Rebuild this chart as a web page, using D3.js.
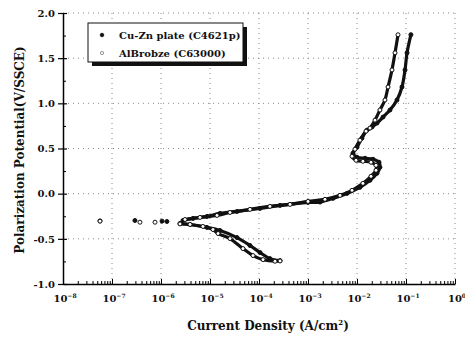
<!DOCTYPE html>
<html>
<head>
<meta charset="utf-8">
<script src="https://cdn.jsdelivr.net/npm/d3@7"></script>
<style>
  body { margin: 0; background: #fff; }
  svg { display: block; }
  text { font-family: "DejaVu Serif", "Liberation Serif", serif; font-weight: bold; fill: #111; }
</style>
</head>
<body>
<svg width="465" height="337"></svg>
<script>
// Cu-Zn plate (C4621p): current density (A/cm2) and potential (V/SSCE), cathodic end -> anodic end
const cuznCurrent = [2.69e-4, 1.67e-4, 1.05e-4, 6.55e-5, 3.56e-5, 1.60e-5, 8.69e-6, 3.91e-6, 2.44e-6,
  1.32e-6, 1.05e-6, 2.94e-7, 5.69e-8,
  2.81e-6, 4.50e-6, 8.69e-6, 1.60e-5, 3.56e-5, 1.05e-4, 2.69e-4, 1.0e-3, 1.76e-3, 3.24e-3, 6.25e-3,
  1.15e-2, 1.84e-2, 2.56e-2, 2.94e-2, 2.81e-2, 2.12e-2, 1.46e-2, 1.0e-2, 8.28e-3, 1.0e-2, 1.26e-2,
  1.60e-2, 2.02e-2, 2.56e-2, 3.40e-2, 4.71e-2, 6.55e-2, 8.28e-2, 9.55e-2, 0.105, 0.126];
const cuznPotential = [-0.741, -0.719, -0.652, -0.574, -0.486, -0.408, -0.374, -0.341, -0.330,
  -0.308, -0.304, -0.297, -0.302,
  -0.297, -0.274, -0.252, -0.219, -0.197, -0.163, -0.130, -0.097, -0.093, -0.052, 0.003,
  0.070, 0.148, 0.226, 0.292, 0.348, 0.381, 0.392, 0.403, 0.448, 0.514, 0.614,
  0.703, 0.737, 0.781, 0.848, 0.926, 1.037, 1.181, 1.370, 1.559, 1.760];

// AlBrobze (C63000)
const albrCurrent = [2.69e-4, 2.12e-4, 1.21e-4, 7.55e-5, 4.71e-5, 2.56e-5, 1.46e-5, 1.15e-5, 7.19e-6,
  3.91e-6, 2.44e-6, 7.55e-7, 3.72e-7, 5.69e-8,
  3.09e-6, 6.25e-6, 1.39e-5, 2.56e-5, 6.55e-5, 1.67e-4, 4.30e-4, 1.0e-3, 2.22e-3, 4.50e-3, 7.91e-3,
  1.32e-2, 1.93e-2, 2.44e-2, 2.44e-2, 1.93e-2, 1.32e-2, 9.55e-3, 7.91e-3, 9.10e-3, 1.15e-2,
  1.53e-2, 1.84e-2, 2.33e-2, 2.94e-2, 3.72e-2, 4.30e-2, 5.18e-2, 5.97e-2, 6.87e-2];
const albrPotential = [-0.745, -0.748, -0.730, -0.685, -0.608, -0.497, -0.441, -0.397, -0.363,
  -0.341, -0.335, -0.316, -0.316, -0.304,
  -0.286, -0.263, -0.241, -0.208, -0.174, -0.141, -0.119, -0.086, -0.063, -0.019, 0.037,
  0.114, 0.192, 0.259, 0.314, 0.348, 0.359, 0.370, 0.414, 0.492, 0.592,
  0.692, 0.726, 0.814, 0.926, 1.037, 1.181, 1.370, 1.559, 1.759];

const seriesNames = ["Cu-Zn plate (C4621p)", "AlBrobze (C63000)"];
const xTickExps = [-8, -7, -6, -5, -4, -3, -2, -1, 0];
const yTicks = [-1.0, -0.5, 0.0, 0.5, 1.0, 1.5, 2.0];
const yMinor = [-0.75, -0.25, 0.25, 0.75, 1.25, 1.75];

const svg = d3.select("svg");
const plotLeft = 63, plotRight = 455, plotTop = 13, plotBottom = 284;

const x = d3.scaleLog().domain([1e-8, 1]).range([plotLeft, plotRight]);
const y = d3.scaleLinear().domain([-1, 2]).range([plotBottom, plotTop]);

// grid
const grid = svg.append("g").attr("stroke", "#888").attr("stroke-width", 1).attr("stroke-dasharray", "1,4");
grid.selectAll(".gx").data(xTickExps.slice(1)).enter().append("line")
  .attr("x1", d => x(Math.pow(10, d))).attr("x2", d => x(Math.pow(10, d)))
  .attr("y1", plotTop).attr("y2", plotBottom);
grid.selectAll(".gy").data(yTicks.slice(1)).enter().append("line")
  .attr("x1", plotLeft).attr("x2", plotRight)
  .attr("y1", d => y(d)).attr("y2", d => y(d));

// y axis
const yAxis = svg.append("g").attr("transform", `translate(${plotLeft},0)`)
  .call(d3.axisLeft(y).tickValues(yTicks).tickSizeInner(5).tickSizeOuter(0).tickPadding(3).tickFormat(d => d.toFixed(1)));
yAxis.select(".domain").attr("stroke-width", 1.5);
yAxis.selectAll(".tick line").attr("x1", 4).attr("stroke-width", 1.2);
yAxis.selectAll("text").attr("font-size", "10px");
svg.append("g").attr("transform", `translate(${plotLeft},0)`)
  .call(d3.axisRight(y).tickValues(yMinor).tickSizeInner(3).tickSizeOuter(0).tickFormat(""))
  .select(".domain").remove();

// x axis
const xMinor = [];
xTickExps.slice(0, -1).forEach(e => { for (let k = 2; k <= 9; k++) xMinor.push(k * Math.pow(10, e)); });
const xAxis = svg.append("g").attr("transform", `translate(0,${plotBottom})`)
  .call(d3.axisBottom(x).tickValues(xTickExps.map(e => Math.pow(10, e))).tickSizeInner(-5).tickSizeOuter(0).tickFormat(""));
xAxis.select(".domain").attr("stroke-width", 1.5);
svg.append("g").attr("transform", `translate(0,${plotBottom})`)
  .call(d3.axisBottom(x).tickValues(xMinor).tickSizeInner(-3).tickSizeOuter(0).tickFormat(""))
  .select(".domain").remove();

const xLab = svg.append("g").selectAll("text").data(xTickExps).enter().append("text")
  .attr("x", d => x(Math.pow(10, d)) + 2).attr("y", 302)
  .attr("text-anchor", "middle").attr("font-size", "10px");
xLab.append("tspan").text("10");
xLab.append("tspan").attr("font-size", "6px").attr("dy", -4).text(d => d === 0 ? "0" : "\u2212" + (-d));

// axis titles
const xTitle = svg.append("text").attr("x", 268).attr("y", 330).attr("text-anchor", "middle").attr("font-size", "12px");
xTitle.append("tspan").text("Current Density (A/cm");
xTitle.append("tspan").attr("font-size", "7px").attr("dy", -5).text("2");
xTitle.append("tspan").attr("dy", 5).text(")");
svg.append("text").attr("transform", "translate(24,150) rotate(-90)").attr("text-anchor", "middle")
  .attr("font-size", "12px").text("Polarization Potential(V/SSCE)");

// curves
const series = [
  { name: seriesNames[0], data: cuznCurrent.map((c, i) => ({ c, v: cuznPotential[i] })), fill: "#111" },
  { name: seriesNames[1], data: albrCurrent.map((c, i) => ({ c, v: albrPotential[i] })), fill: "#fff" }
];
const line = d3.line().defined(d => d.c >= 1.5e-6).x(d => x(d.c)).y(d => y(d.v)).curve(d3.curveCatmullRom);

series.forEach(s => {
  svg.append("path").datum(s.data).attr("d", line)
    .attr("fill", "none").attr("stroke", "#111").attr("stroke-width", 3.2).attr("stroke-linejoin", "round");
});
series.forEach(s => {
  svg.append("g").selectAll("circle").data(s.data).enter().append("circle")
    .attr("cx", d => x(d.c)).attr("cy", d => y(d.v)).attr("r", 2)
    .attr("fill", s.fill).attr("stroke", "#111").attr("stroke-width", 1);
});

// legend
const lg = svg.append("g");
lg.append("rect").attr("x", 92).attr("y", 27).attr("width", 155).attr("height", 39).attr("fill", "#111");
lg.append("rect").attr("x", 88).attr("y", 23).attr("width", 155).attr("height", 39)
  .attr("fill", "#fff").attr("stroke", "#111").attr("stroke-width", 1);
series.forEach((s, i) => {
  lg.append("circle").attr("cx", 102).attr("cy", 35 + i * 18).attr("r", i === 0 ? 1.8 : 1.6)
    .attr("fill", s.fill).attr("stroke", i === 0 ? "#111" : "#777").attr("stroke-width", 0.8);
  lg.append("text").attr("x", 119).attr("y", 39 + i * 18).attr("font-size", "10px").text(s.name);
});
</script>
</body>
</html>
